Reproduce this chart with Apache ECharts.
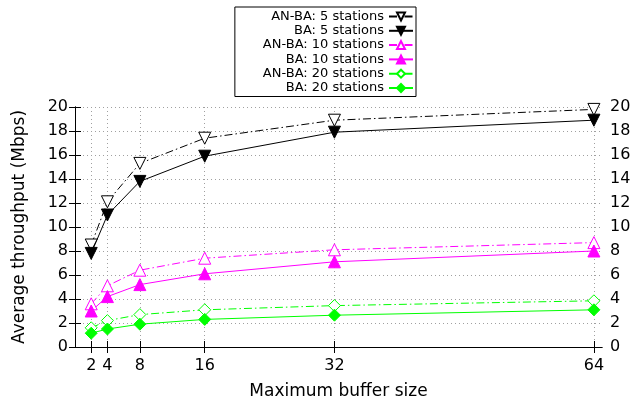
<!DOCTYPE html>
<html>
<head>
<meta charset="utf-8">
<script src="https://cdn.jsdelivr.net/npm/echarts@6/dist/echarts.min.js"></script>
<style>html,body{margin:0;padding:0;background:#fff}#c{width:635px;height:405px}</style>
</head>
<body>
<div id="c"></div>
<script>
const bufferSizes = [2, 4, 8, 16, 32, 64];
const xTickLabels = [2, 4, 8, 16, 32, 64];
const yTicks = [0, 2, 4, 6, 8, 10, 12, 14, 16, 18, 20];
const seriesNames = ['AN-BA: 5 stations', 'BA: 5 stations', 'AN-BA: 10 stations', 'BA: 10 stations', 'AN-BA: 20 stations', 'BA: 20 stations'];
const anba5 = [8.5, 12.1, 15.3, 17.4, 18.9, 19.8];
const ba5 = [7.8, 11.0, 13.8, 15.9, 17.9, 18.9];
const anba10 = [3.6, 5.1, 6.4, 7.4, 8.1, 8.7];
const ba10 = [3.0, 4.2, 5.2, 6.1, 7.1, 8.0];
const anba20 = [1.6, 2.2, 2.7, 3.1, 3.45, 3.85];
const ba20 = [1.15, 1.5, 1.9, 2.3, 2.65, 3.1];

const FONT = 'DejaVu Sans';
const dashDot = [8, 3, 1.5, 3];
function pairs(vals) { return bufferSizes.map((x, i) => [x, vals[i]]); }
function mk(name, vals, color, symbol, rotate, hollow) {
  return {
    name, type: 'line', data: pairs(vals), xAxisIndex: 0, yAxisIndex: 0,
    symbol, symbolSize: 12, symbolRotate: rotate,
    showAllSymbol: true, animation: false,
    lineStyle: { color, width: 1, type: hollow ? dashDot : 'solid' },
    itemStyle: hollow ? { color: '#ffffff', borderColor: color, borderWidth: 1 } : { color, borderColor: color, borderWidth: 1 },
    emphasis: { disabled: true }
  };
}
const series = [
  mk(seriesNames[0], anba5, '#000000', 'triangle', 180, true),
  mk(seriesNames[1], ba5, '#000000', 'triangle', 180, false),
  mk(seriesNames[2], anba10, '#ff00ff', 'triangle', 0, true),
  mk(seriesNames[3], ba10, '#ff00ff', 'triangle', 0, false),
  mk(seriesNames[4], anba20, '#00ff00', 'diamond', 0, true),
  mk(seriesNames[5], ba20, '#00ff00', 'diamond', 0, false)
];

const axisLine = { show: true, lineStyle: { color: '#000', width: 1 } };
const chart = echarts.init(document.getElementById('c'), null, { renderer: 'canvas' });
chart.setOption({
  animation: false,
  textStyle: { fontFamily: FONT },
  grid: { left: 75, right: 33, top: 107, bottom: 57 },
  legend: {
    data: seriesNames, orient: 'vertical', align: 'right',
    right: 219, top: 7,
    itemWidth: 24, itemHeight: 10, itemGap: 1.3,
    padding: [3, 2, 2, 28],
    borderColor: '#000', borderWidth: 1,
    textStyle: { fontFamily: FONT, fontSize: 13, color: '#000' },
    selectedMode: false
  },
  xAxis: [{
    type: 'value', min: 0, max: 65, position: 'bottom',
    name: 'Maximum buffer size', nameLocation: 'middle', nameGap: 36,
    nameTextStyle: { fontFamily: FONT, fontSize: 17, color: '#000' },
    axisLine: axisLine,
    axisTick: { show: true, inside: true, length: 6, customValues: xTickLabels, lineStyle: { color: '#000' } },
    axisLabel: { show: true, customValues: xTickLabels, fontFamily: FONT, fontSize: 16, color: '#000', margin: 11 },
    splitLine: { show: true, lineStyle: { color: '#a0a0a0', type: [1, 3], width: 1 } }
  }, {
    type: 'value', min: 0, max: 65, position: 'top',
    axisLine: axisLine,
    axisTick: { show: true, inside: true, length: 6, customValues: xTickLabels, lineStyle: { color: '#000' } },
    axisLabel: { show: false },
    splitLine: { show: false }
  }],
  yAxis: [{
    type: 'value', min: 0, max: 20, interval: 2, position: 'left',
    name: 'Average throughput (Mbps)', nameLocation: 'middle', nameGap: 47,
    nameTextStyle: { fontFamily: FONT, fontSize: 17, color: '#000' },
    axisLine: axisLine,
    axisTick: { show: true, inside: true, length: 6, lineStyle: { color: '#000' } },
    axisLabel: { fontFamily: FONT, fontSize: 16, color: '#000', margin: 7 },
    splitLine: { show: true, lineStyle: { color: '#a0a0a0', type: [1, 3], width: 1 } }
  }, {
    type: 'value', min: 0, max: 20, interval: 2, position: 'right',
    axisLine: axisLine,
    axisTick: { show: true, inside: true, length: 6, lineStyle: { color: '#000' } },
    axisLabel: { fontFamily: FONT, fontSize: 16, color: '#000', margin: 8 },
    splitLine: { show: false }
  }],
  series: series
});
</script>
</body>
</html>
